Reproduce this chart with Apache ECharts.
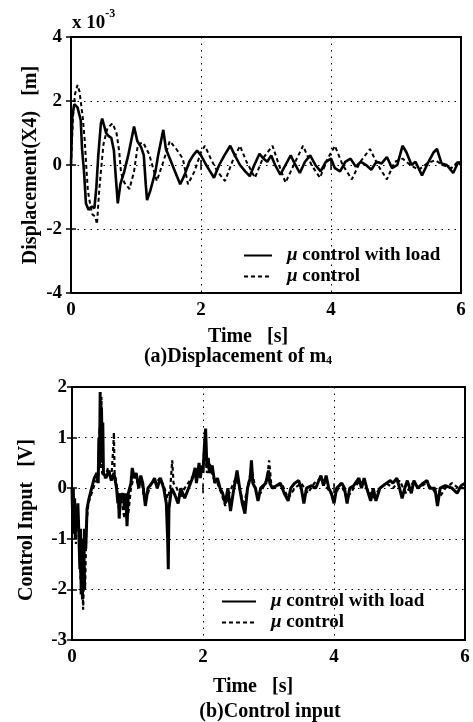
<!DOCTYPE html>
<html>
<head>
<meta charset="utf-8">
<script src="https://cdn.jsdelivr.net/npm/echarts@6/dist/echarts.min.js"></script>
<style>
html,body{margin:0;padding:0;background:#fff;}
#chart{width:473px;height:722px;}
</style>
</head>
<body>
<div id="chart"></div>
<script>
// ---- Top panel: displacement of m4 (x 10^-3 m) ----
const timeDispLoad = [0.00,0.02,0.05,0.10,0.15,0.17,0.20,0.23,0.27,0.32,0.36,0.39,0.42,0.46,0.48,0.54,0.58,0.62,0.66,0.69,0.72,0.76,0.82,0.88,0.95,0.97,1.02,1.08,1.12,1.15,1.17,1.22,1.26,1.30,1.34,1.40,1.42,1.46,1.52,1.60,1.68,1.75,1.82,1.88,1.94,2.00,2.08,2.14,2.20,2.28,2.36,2.45,2.52,2.60,2.68,2.75,2.82,2.90,2.96,3.02,3.08,3.14,3.22,3.30,3.38,3.44,3.52,3.60,3.68,3.76,3.84,3.92,4.00,4.06,4.14,4.22,4.30,4.38,4.46,4.54,4.62,4.70,4.78,4.86,4.94,5.02,5.10,5.16,5.24,5.30,5.40,5.50,5.58,5.63,5.70,5.78,5.88,5.96,6.00];
const dispLoad = [0.0,1.5,1.9,1.8,1.4,0.5,-0.2,-1.2,-1.4,-1.3,-1.35,-0.7,0.3,1.3,1.45,1.0,0.9,0.85,0.45,-0.4,-1.2,-0.6,-0.2,0.3,1.0,1.2,0.75,0.55,0.3,-0.6,-1.1,-0.8,-0.5,-0.2,0.3,0.9,1.1,0.5,0.2,-0.2,-0.6,-0.3,0.1,0.3,0.45,0.3,0.0,-0.2,-0.4,0.0,0.3,0.6,0.3,0.0,-0.2,-0.35,0.0,0.35,0.2,0.1,0.3,0.0,-0.3,0.0,0.3,0.05,-0.25,0.1,0.3,0.0,-0.2,0.1,0.2,-0.1,-0.2,0.1,0.2,-0.05,0.1,0.0,-0.15,0.1,0.05,0.25,-0.1,0.0,0.6,0.4,0.0,0.1,-0.33,0.1,0.4,0.5,0.05,0.0,-0.25,0.1,0.0];
const timeDisp = [0.00,0.03,0.06,0.10,0.13,0.18,0.21,0.24,0.26,0.30,0.33,0.37,0.40,0.43,0.46,0.50,0.56,0.64,0.70,0.74,0.77,0.82,0.90,0.97,1.03,1.11,1.20,1.32,1.42,1.52,1.62,1.72,1.80,1.90,2.00,2.06,2.15,2.25,2.37,2.48,2.60,2.70,2.83,2.95,3.10,3.20,3.30,3.45,3.57,3.70,3.83,3.95,4.06,4.18,4.32,4.45,4.60,4.72,4.86,4.98,5.10,5.22,5.35,5.48,5.60,5.72,5.85,5.95,6.00];
const disp = [0.0,1.5,2.2,2.5,2.3,1.5,0.8,-0.2,-0.8,-1.3,-1.55,-1.6,-1.85,-0.9,-0.2,0.65,1.15,1.3,1.0,0.45,-0.25,-0.55,-0.75,-0.2,0.65,0.7,0.35,-0.5,0.1,0.75,0.5,0.2,-0.6,-0.2,0.4,0.6,0.2,-0.2,-0.5,0.1,0.6,0.1,-0.4,0.2,0.6,0.0,-0.55,0.1,0.6,0.0,-0.4,0.2,0.6,0.0,-0.45,0.1,0.5,0.0,-0.45,0.1,0.2,0.0,-0.15,0.05,0.15,0.0,-0.1,0.1,0.0];

// ---- Bottom panel: control input (V) ----
const timeCtrlLoad = [0.00,0.01,0.02,0.03,0.04,0.05,0.06,0.08,0.09,0.10,0.12,0.13,0.14,0.15,0.16,0.17,0.18,0.19,0.21,0.23,0.26,0.30,0.34,0.38,0.40,0.41,0.42,0.43,0.44,0.45,0.46,0.47,0.48,0.52,0.56,0.60,0.64,0.68,0.70,0.71,0.72,0.74,0.78,0.80,0.82,0.84,0.86,0.90,0.92,0.95,0.98,1.02,1.05,1.08,1.12,1.16,1.22,1.26,1.30,1.35,1.40,1.44,1.46,1.47,1.48,1.52,1.56,1.62,1.66,1.72,1.78,1.84,1.88,1.90,1.94,1.96,1.98,2.00,2.02,2.04,2.06,2.08,2.10,2.14,2.18,2.22,2.26,2.30,2.34,2.38,2.42,2.46,2.52,2.56,2.60,2.64,2.68,2.72,2.74,2.76,2.80,2.84,2.88,2.96,3.00,3.02,3.06,3.12,3.18,3.24,3.30,3.34,3.40,3.46,3.50,3.54,3.58,3.66,3.72,3.80,3.84,3.88,3.92,3.96,4.00,4.04,4.12,4.16,4.20,4.24,4.30,4.38,4.42,4.46,4.50,4.56,4.60,4.64,4.70,4.80,4.86,4.90,4.96,5.00,5.04,5.08,5.12,5.18,5.22,5.28,5.36,5.42,5.46,5.54,5.58,5.62,5.70,5.80,5.88,5.94,6.00];
const ctrlLoad = [0.0,-0.6,0.0,-0.9,-0.2,-1.0,-0.4,-0.8,-0.3,-0.7,-1.6,-0.8,-2.1,-1.2,-2.2,-1.0,-1.9,-0.8,-1.2,-0.4,-0.2,0.0,0.2,0.3,0.1,1.0,0.4,1.9,0.6,1.6,0.8,1.3,0.3,0.2,0.35,0.15,0.3,0.0,-0.3,-0.1,-0.6,-0.2,-0.1,-0.4,-0.1,-0.75,-0.1,0.1,0.4,0.2,0.3,0.0,0.25,0.1,-0.35,0.0,0.1,0.2,0.0,0.2,0.0,-0.3,-1.0,-1.6,-0.4,0.0,-0.1,-0.3,0.0,-0.2,0.0,0.2,0.4,0.1,0.5,0.2,0.45,0.3,0.8,1.18,0.4,0.6,0.3,0.45,0.1,0.2,0.0,-0.1,-0.3,0.0,-0.45,-0.1,0.35,0.0,-0.3,-0.5,0.0,0.2,0.55,0.1,0.0,-0.25,0.0,0.1,0.35,0.1,0.0,0.05,0.1,-0.1,-0.25,0.0,0.1,0.15,0.0,-0.3,0.0,0.05,0.0,0.25,0.05,0.25,0.0,-0.1,-0.3,0.0,0.1,0.0,-0.3,0.0,0.05,0.2,0.0,0.2,0.0,-0.25,0.0,-0.25,0.0,0.1,0.15,0.1,0.2,0.0,-0.2,0.0,0.15,-0.1,0.15,0.0,0.1,0.15,0.0,0.0,-0.35,0.0,0.05,0.0,-0.1,0.05,0.1];
const timeCtrl = [0.00,0.02,0.04,0.06,0.08,0.11,0.13,0.15,0.17,0.19,0.20,0.22,0.25,0.30,0.35,0.40,0.42,0.44,0.45,0.46,0.50,0.55,0.60,0.63,0.64,0.65,0.68,0.72,0.74,0.80,0.82,0.86,0.90,0.96,1.00,1.06,1.10,1.16,1.22,1.28,1.34,1.40,1.46,1.50,1.53,1.55,1.60,1.66,1.72,1.80,1.88,1.94,2.00,2.03,2.06,2.10,2.16,2.22,2.28,2.34,2.40,2.50,2.56,2.62,2.68,2.74,2.80,2.88,2.98,3.01,3.04,3.10,3.20,3.30,3.40,3.50,3.60,3.70,3.80,3.90,4.00,4.10,4.20,4.30,4.40,4.50,4.60,4.70,4.80,4.90,5.00,5.10,5.20,5.30,5.40,5.50,5.60,5.70,5.80,5.90,6.00];
const ctrl = [0.0,-0.5,-0.2,-1.1,-0.4,-0.9,-1.8,-1.0,-2.4,-1.5,-2.0,-0.7,-0.3,-0.1,0.1,0.2,1.2,0.5,1.8,0.3,0.2,0.4,0.2,0.8,1.1,0.3,0.1,-0.5,-0.1,-0.6,-0.2,-0.5,0.0,0.3,0.1,0.2,-0.2,-0.1,0.15,0.1,0.2,0.05,-0.2,0.0,0.55,0.1,0.0,-0.2,0.0,0.15,0.3,0.2,0.5,0.9,0.3,0.5,0.2,0.1,-0.1,-0.35,-0.1,0.2,0.0,-0.35,0.0,0.4,0.0,-0.1,0.2,0.55,0.1,0.0,0.1,-0.2,0.0,0.1,-0.1,0.1,0.2,0.0,-0.2,0.1,-0.2,0.0,0.15,0.0,-0.2,0.0,0.1,0.0,0.15,-0.1,0.1,0.0,0.1,0.0,-0.2,0.0,0.1,0.0,0.0];

const xTicks = [0, 2, 4, 6];
const yTicksTop = [-4, -2, 0, 2, 4];
const yTicksBottom = [-3, -2, -1, 0, 1, 2];
const seriesNames = ['μ control with load', 'μ control'];

const zip = (ts, vs) => ts.map((t, i) => [t, vs[i]]);
const FONT = '"Liberation Serif", "Times New Roman", serif';

const chart = echarts.init(document.getElementById('chart'), null, {renderer: 'canvas'});

const gridLine = {show: true, lineStyle: {color: '#000', width: 1, type: [1.5, 5]}};
const tickLabel = {color: '#000', fontFamily: FONT, fontSize: 19, fontWeight: 'bold'};

function xAx(gridIndex, pos, showLabel) {
  return {
    type: 'value', gridIndex, position: pos, min: xTicks[0], max: xTicks[xTicks.length - 1], interval: 2,
    axisLine: {show: false},
    axisTick: {show: true, inside: true, length: 5, lineStyle: {color: '#000', width: 1.5}},
    axisLabel: Object.assign({show: showLabel, margin: 8}, tickLabel),
    splitLine: showLabel ? gridLine : {show: false}
  };
}
function yAx(gridIndex, pos, showLabel, ticks, margin) {
  return {
    type: 'value', gridIndex, position: pos, min: ticks[0], max: ticks[ticks.length - 1], interval: ticks[1] - ticks[0],
    axisLine: {show: false},
    axisTick: {show: true, inside: true, length: 5, lineStyle: {color: '#000', width: 1.5}},
    axisLabel: Object.assign({show: showLabel, margin: margin}, tickLabel),
    splitLine: showLabel ? gridLine : {show: false}
  };
}

const legendText = {
  color: '#000', fontFamily: FONT, fontSize: 19, fontWeight: 'bold', padding: [0, 0, 0, 10],
  rich: {i: {fontStyle: 'italic', fontFamily: FONT, fontSize: 19, fontWeight: 'bold', color: '#000'}}
};
const legendFmt = name => name.replace('μ', '{i|μ}');

const option = {
  backgroundColor: '#fff',
  animation: false,
  grid: [
    {left: 71, right: 12, top: 37, bottom: 722 - 293, show: true, borderColor: '#000', borderWidth: 2, backgroundColor: 'transparent'},
    {left: 72, right: 8, top: 387, bottom: 722 - 640, show: true, borderColor: '#000', borderWidth: 2, backgroundColor: 'transparent'}
  ],
  xAxis: [xAx(0, 'bottom', true), xAx(1, 'bottom', true), xAx(0, 'top', false), xAx(1, 'top', false)],
  yAxis: [yAx(0, 'left', true, yTicksTop, 9), yAx(1, 'left', true, yTicksBottom, 5), yAx(0, 'right', false, yTicksTop, 8), yAx(1, 'right', false, yTicksBottom, 8)],
  legend: [
    {orient: 'vertical', left: 238, top: 241, itemWidth: 28, itemHeight: 10, itemGap: 2,
     itemStyle: {opacity: 0}, data: seriesNames, formatter: legendFmt, textStyle: legendText, selectedMode: false},
    {orient: 'vertical', left: 216, top: 587, itemWidth: 34, itemHeight: 10, itemGap: 2,
     itemStyle: {opacity: 0}, data: seriesNames, formatter: legendFmt, textStyle: legendText, selectedMode: false}
  ],
  series: [
    {name: seriesNames[1], type: 'line', xAxisIndex: 0, yAxisIndex: 0, data: zip(timeDisp, disp), showSymbol: false, symbol: 'none',
     lineStyle: {color: '#000', width: 2, type: [4, 3]}, itemStyle: {color: '#000'}},
    {name: seriesNames[0], type: 'line', xAxisIndex: 0, yAxisIndex: 0, data: zip(timeDispLoad, dispLoad), showSymbol: false, symbol: 'none',
     lineStyle: {color: '#000', width: 2.6}, itemStyle: {color: '#000'}},
    {name: seriesNames[1], type: 'line', xAxisIndex: 1, yAxisIndex: 1, data: zip(timeCtrl, ctrl), showSymbol: false, symbol: 'none',
     lineStyle: {color: '#000', width: 2.2, type: [4, 3]}, itemStyle: {color: '#000'}},
    {name: seriesNames[0], type: 'line', xAxisIndex: 1, yAxisIndex: 1, data: zip(timeCtrlLoad, ctrlLoad), showSymbol: false, symbol: 'none',
     lineStyle: {color: '#000', width: 3}, itemStyle: {color: '#000'}}
  ],
  graphic: [
    {type: 'text', left: 72, top: 8, style: {
      text: '{a|x 10}{b|-3}', rich: {
        a: {fontFamily: FONT, fontSize: 19, fontWeight: 'bold', fill: '#000', padding: [10, 0, 0, 0]},
        b: {fontFamily: FONT, fontSize: 12, fontWeight: 'bold', fill: '#000', padding: [0, 0, 8, 0]}
      }}},
    {type: 'text', x: 31, y: 165, rotation: Math.PI / 2, style: {
      text: 'Displacement(X4)   [m]', fontFamily: FONT, fontSize: 20, fontWeight: 'bold', fill: '#000',
      align: 'center', verticalAlign: 'middle'}},
    {type: 'text', x: 248, y: 337, style: {
      text: 'Time   [s]', fontFamily: FONT, fontSize: 20, fontWeight: 'bold', fill: '#000',
      align: 'center', verticalAlign: 'middle'}},
    {type: 'text', x: 238, y: 357, style: {
      text: '{a|(a)Displacement of m}{s|4}', align: 'center', verticalAlign: 'middle', rich: {
        a: {fontFamily: FONT, fontSize: 20, fontWeight: 'bold', fill: '#000'},
        s: {fontFamily: FONT, fontSize: 12, fontWeight: 'bold', fill: '#000', padding: [8, 0, 0, 0]}
      }}},
    {type: 'text', x: 27, y: 520, rotation: Math.PI / 2, style: {
      text: 'Control Input   [V]', fontFamily: FONT, fontSize: 20, fontWeight: 'bold', fill: '#000',
      align: 'center', verticalAlign: 'middle'}},
    {type: 'text', x: 253, y: 687, style: {
      text: 'Time   [s]', fontFamily: FONT, fontSize: 20, fontWeight: 'bold', fill: '#000',
      align: 'center', verticalAlign: 'middle'}},
    {type: 'text', x: 270, y: 712, style: {
      text: '(b)Control input', fontFamily: FONT, fontSize: 20, fontWeight: 'bold', fill: '#000',
      align: 'center', verticalAlign: 'middle'}}
  ]
};
chart.setOption(option);
</script>
</body>
</html>
